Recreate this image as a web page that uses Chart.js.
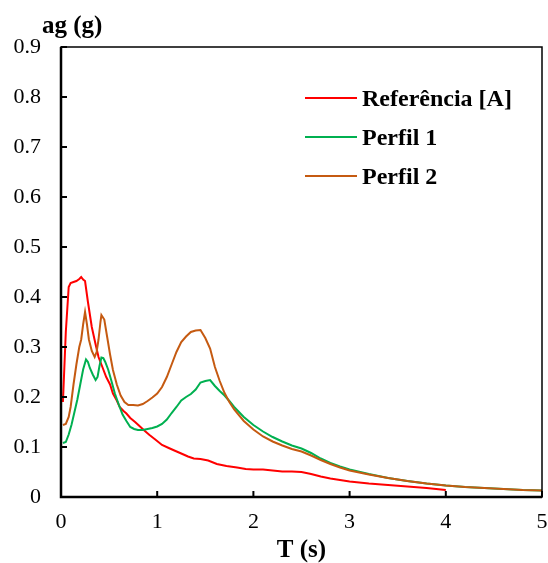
<!DOCTYPE html>
<html lang="pt">
<head>
  <meta charset="UTF-8">
  <title>Espectro de resposta</title>
  <script src="https://cdn.jsdelivr.net/npm/chart.js@4.4.2/dist/chart.umd.min.js"></script>
  <style>
    html, body { margin: 0; padding: 0; background: #fff; }
    #wrap { width: 548px; height: 563px; position: relative; }
  </style>
</head>
<body>
  <div id="wrap"><canvas id="chart"></canvas></div>
  <script>
    // periodo T (s) e aceleracao ag (g)
    const refT = [0.02,0.05,0.08,0.1,0.13,0.16,0.19,0.21,0.23,0.25,0.28,0.32,0.36,0.39,0.43,0.47,0.51,0.54,0.58,0.61,0.65,0.68,0.72,0.77,0.81,0.86,0.92,0.98,1.05,1.12,1.19,1.25,1.32,1.38,1.45,1.53,1.62,1.72,1.83,1.92,2.0,2.1,2.2,2.3,2.4,2.5,2.6,2.7,2.8,2.9,3.0,3.2,3.4,3.6,3.8,4.0];
    const refAg = [0.19,0.33,0.42,0.428,0.43,0.432,0.436,0.44,0.435,0.432,0.39,0.34,0.305,0.28,0.26,0.24,0.225,0.207,0.193,0.18,0.172,0.167,0.158,0.15,0.143,0.134,0.124,0.115,0.104,0.098,0.092,0.087,0.081,0.077,0.076,0.073,0.066,0.062,0.059,0.056,0.055,0.055,0.053,0.051,0.051,0.05,0.046,0.041,0.037,0.034,0.031,0.027,0.024,0.021,0.018,0.014];

    const p1T = [0.02,0.05,0.08,0.11,0.14,0.17,0.2,0.23,0.26,0.28,0.3,0.33,0.36,0.38,0.4,0.42,0.44,0.46,0.49,0.52,0.56,0.6,0.64,0.68,0.72,0.76,0.8,0.85,0.9,0.95,1.0,1.05,1.1,1.15,1.2,1.25,1.3,1.35,1.4,1.45,1.5,1.55,1.6,1.65,1.7,1.75,1.8,1.9,2.0,2.1,2.2,2.3,2.4,2.5,2.6,2.7,2.8,2.9,3.0,3.2,3.4,3.6,3.8,4.0,4.2,4.4,4.6,4.8,5.0];
    const p1Ag = [0.108,0.11,0.125,0.145,0.17,0.195,0.225,0.255,0.275,0.27,0.258,0.245,0.234,0.24,0.262,0.279,0.278,0.27,0.255,0.235,0.207,0.185,0.165,0.152,0.14,0.136,0.134,0.134,0.136,0.138,0.141,0.146,0.155,0.168,0.18,0.193,0.2,0.206,0.215,0.229,0.232,0.234,0.222,0.212,0.203,0.192,0.18,0.16,0.144,0.131,0.12,0.111,0.103,0.097,0.088,0.077,0.068,0.061,0.055,0.046,0.038,0.032,0.027,0.023,0.02,0.018,0.016,0.014,0.013];

    const p2T = [0.02,0.05,0.08,0.1,0.13,0.16,0.19,0.21,0.23,0.25,0.27,0.29,0.32,0.35,0.37,0.39,0.41,0.42,0.45,0.48,0.51,0.54,0.58,0.62,0.66,0.7,0.75,0.8,0.85,0.9,0.95,1.0,1.05,1.1,1.15,1.2,1.25,1.3,1.35,1.4,1.45,1.5,1.55,1.6,1.65,1.7,1.75,1.8,1.9,2.0,2.1,2.2,2.3,2.4,2.5,2.6,2.7,2.8,2.9,3.0,3.2,3.4,3.6,3.8,4.0,4.2,4.4,4.6,4.8,5.0];
    const p2Ag = [0.144,0.146,0.16,0.18,0.225,0.265,0.3,0.315,0.345,0.37,0.345,0.315,0.292,0.28,0.29,0.315,0.35,0.364,0.355,0.32,0.285,0.254,0.225,0.203,0.19,0.184,0.184,0.183,0.186,0.192,0.199,0.207,0.22,0.24,0.265,0.29,0.31,0.321,0.33,0.333,0.334,0.318,0.297,0.26,0.232,0.208,0.19,0.175,0.152,0.135,0.121,0.111,0.103,0.096,0.091,0.083,0.074,0.066,0.059,0.053,0.045,0.038,0.032,0.027,0.023,0.02,0.018,0.016,0.014,0.013];

    const seriesNames = ['Referência [A]', 'Perfil 1', 'Perfil 2'];
    const seriesColors = ['#FF0000', '#00B050', '#C55A11'];
    const xTicks = [0, 1, 2, 3, 4, 5];
    const yTicks = [0, 0.1, 0.2, 0.3, 0.4, 0.5, 0.6, 0.7, 0.8, 0.9];

    const serif = "'Liberation Serif', 'Times New Roman', serif";
    const pts = (xs, ys) => xs.map((x, i) => ({ x: x, y: ys[i] }));

    // moldura, marcas interiores, legenda e titulos dos eixos
    const decor = {
      id: 'decor',
      afterDraw(chart) {
        const ctx = chart.ctx;
        const a = chart.chartArea;
        const xs = chart.scales.x, ys = chart.scales.y;
        ctx.save();
        ctx.strokeStyle = '#000';
        ctx.lineWidth = 1.5;
        ctx.strokeRect(a.left, a.top, a.right - a.left, a.bottom - a.top);
        ctx.lineWidth = 2.5;
        ctx.beginPath();
        ctx.moveTo(a.left, a.top); ctx.lineTo(a.left, a.bottom); ctx.lineTo(a.right, a.bottom);
        ctx.stroke();
        ctx.lineWidth = 2;
        ctx.beginPath();
        yTicks.forEach(v => {
          const y = ys.getPixelForValue(v);
          ctx.moveTo(a.left, y); ctx.lineTo(a.left + 6, y);
        });
        xTicks.forEach(v => {
          const x = xs.getPixelForValue(v);
          ctx.moveTo(x, a.bottom); ctx.lineTo(x, a.bottom - 6);
        });
        ctx.stroke();

        ctx.fillStyle = '#000';
        ctx.font = 'bold 25px ' + serif;
        ctx.textBaseline = 'alphabetic';
        ctx.textAlign = 'left';
        ctx.fillText('ag (g)', 42, 33);
        ctx.textAlign = 'center';
        ctx.fillText('T (s)', (a.left + a.right) / 2, 557);

        ctx.font = 'bold 24px ' + serif;
        ctx.textAlign = 'left';
        chart.data.datasets.forEach((ds, i) => {
          const y = 98 + i * 39;
          ctx.strokeStyle = ds.borderColor;
          ctx.lineWidth = 2;
          ctx.beginPath();
          ctx.moveTo(305, y); ctx.lineTo(357, y);
          ctx.stroke();
          ctx.fillText(ds.label, 362, y + 8);
        });
        ctx.restore();
      }
    };

    new Chart(document.getElementById('chart'), {
      type: 'line',
      data: {
        datasets: [
          { label: seriesNames[0], data: pts(refT, refAg), borderColor: seriesColors[0], order: 2 },
          { label: seriesNames[1], data: pts(p1T, p1Ag), borderColor: seriesColors[1], order: 1 },
          { label: seriesNames[2], data: pts(p2T, p2Ag), borderColor: seriesColors[2], order: 0 }
        ]
      },
      options: {
        responsive: true,
        maintainAspectRatio: false,
        animation: false,
        layout: { padding: { top: 47, right: 6, left: 0, bottom: 0 } },
        elements: {
          line: { borderWidth: 2, tension: 0, fill: false },
          point: { radius: 0 }
        },
        plugins: { legend: { display: false }, tooltip: { enabled: false } },
        scales: {
          x: {
            type: 'linear', min: 0, max: 5,
            afterBuildTicks: s => { s.ticks = xTicks.map(v => ({ value: v })); },
            afterFit: s => { s.height = 66; s.paddingLeft = 0; s.paddingRight = 0; },
            grid: { display: false, drawTicks: false },
            border: { display: false },
            ticks: { color: '#000', font: { family: serif, size: 22 }, padding: 12, maxRotation: 0 }
          },
          y: {
            min: 0, max: 0.9,
            afterBuildTicks: s => { s.ticks = yTicks.map(v => ({ value: v })); },
            afterFit: s => { s.width = 61; s.paddingTop = 0; s.paddingBottom = 0; },
            grid: { display: false, drawTicks: false },
            border: { display: false },
            ticks: { color: '#000', font: { family: serif, size: 22 }, padding: 20,
              callback: v => v === 0 ? '0' : v.toFixed(1) }
          }
        }
      },
      plugins: [decor]
    });
  </script>
</body>
</html>
